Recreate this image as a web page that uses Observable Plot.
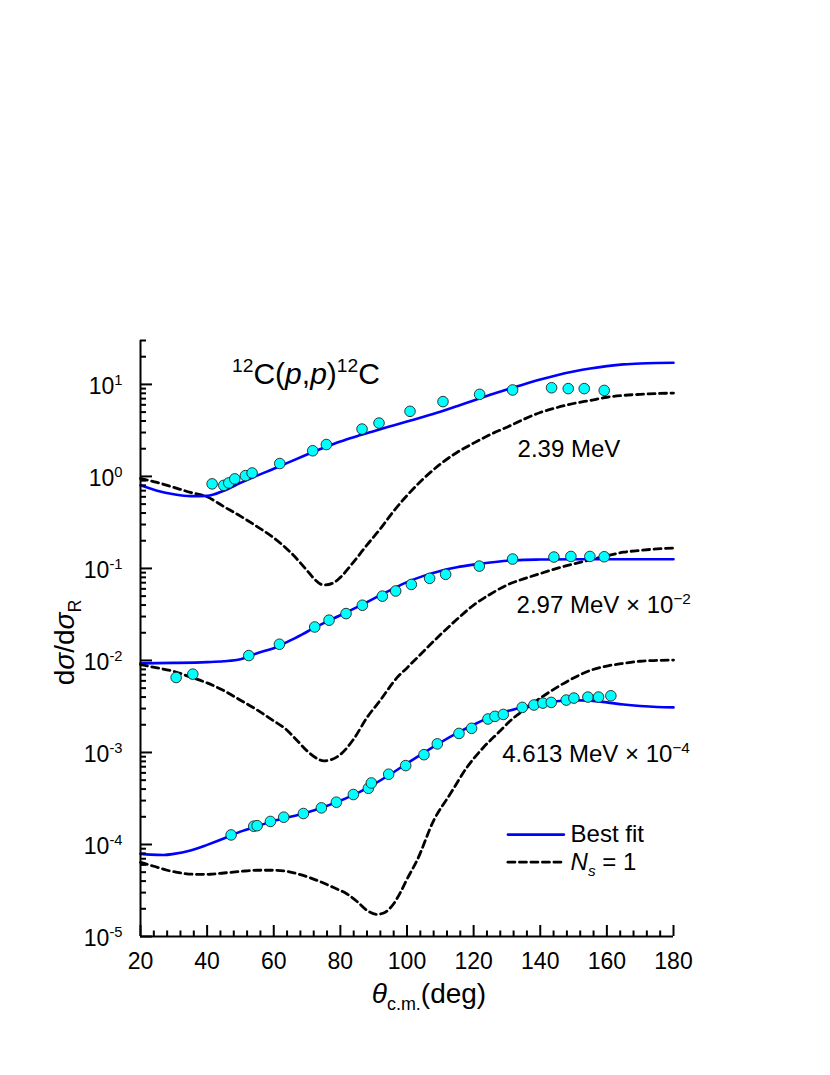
<!DOCTYPE html>
<html><head><meta charset="utf-8">
<script src="https://cdn.jsdelivr.net/npm/d3@7"></script>
<script src="https://cdn.jsdelivr.net/npm/@observablehq/plot@0.6"></script>
<style>body{margin:0;background:#fff;} svg{display:block;}</style>
</head><body><div id="chart"></div>
<script>
// ---- data: [theta (deg), dσ/dσR] ----
const fit239 = [[20,0.80],[25,0.70],[30,0.64],[35,0.61],[40,0.615],[45,0.70],[50,0.85],[55,1.02],[60,1.21],[65,1.45],[70,1.73],[75,2.05],[80,2.40],[85,2.74],[90,3.10],[95,3.50],[100,3.95],[105,4.45],[110,5.05],[115,5.8],[120,6.7],[125,7.7],[130,8.8],[135,10.0],[140,11.3],[145,12.6],[150,13.8],[155,14.9],[160,15.8],[165,16.5],[170,16.9],[175,17.1],[180,17.2]];
const ns239 = [[20,0.95],[25,0.86],[30,0.76],[35,0.67],[40,0.60],[45,0.47],[50,0.37],[55,0.285],[60,0.215],[65,0.15],[70,0.095],[72,0.078],[75,0.066],[78,0.070],[80,0.080],[84,0.118],[88,0.18],[92,0.27],[96,0.42],[100,0.62],[105,0.95],[110,1.36],[115,1.82],[120,2.3],[125,2.85],[130,3.43],[135,4.17],[140,4.95],[145,5.6],[150,6.2],[155,6.7],[160,7.25],[165,7.6],[170,7.8],[175,7.95],[180,8.05]];
const fit297 = [[20,0.0093],[30,0.0094],[40,0.0096],[45,0.0098],[50,0.0103],[55,0.0120],[60,0.0136],[65,0.0165],[70,0.0205],[75,0.0255],[80,0.031],[85,0.038],[90,0.047],[95,0.058],[100,0.071],[105,0.083],[110,0.094],[115,0.103],[120,0.110],[125,0.116],[130,0.121],[135,0.124],[140,0.125],[150,0.126],[160,0.126],[170,0.126],[180,0.126]];
const ns297 = [[20,0.0090],[25,0.0083],[30,0.0076],[35,0.0066],[40,0.0057],[45,0.0047],[50,0.0037],[55,0.0029],[60,0.0022],[63,0.00187],[67,0.00135],[70,0.00104],[73,0.00086],[75,0.00081],[77,0.00083],[80,0.00095],[84,0.0014],[88,0.0024],[92,0.0037],[97,0.0065],[100,0.0083],[105,0.0126],[110,0.019],[115,0.028],[120,0.040],[125,0.0525],[130,0.066],[135,0.077],[140,0.088],[145,0.100],[150,0.112],[155,0.124],[160,0.137],[165,0.150],[170,0.157],[175,0.163],[180,0.166]];
const fit4613 = [[20,7.9e-5],[23,7.75e-5],[27,7.7e-5],[30,7.9e-5],[35,8.6e-5],[40,9.9e-5],[45,1.16e-4],[50,1.38e-4],[55,1.58e-4],[60,1.8e-4],[65,2.0e-4],[70,2.22e-4],[75,2.55e-4],[80,3.0e-4],[85,3.6e-4],[90,4.5e-4],[95,5.8e-4],[100,7.6e-4],[105,9.9e-4],[110,1.28e-3],[115,1.62e-3],[120,2.0e-3],[125,2.42e-3],[130,2.8e-3],[135,3.12e-3],[140,3.4e-3],[145,3.6e-3],[150,3.7e-3],[155,3.66e-3],[160,3.5e-3],[165,3.32e-3],[170,3.2e-3],[175,3.12e-3],[180,3.09e-3]];
const ns4613 = [[20,6.4e-5],[24,5.8e-5],[28,5.25e-5],[33,4.85e-5],[37,4.73e-5],[41,4.75e-5],[45,4.9e-5],[50,5.1e-5],[55,5.25e-5],[60,5.25e-5],[64,5.1e-5],[68,4.7e-5],[73,4.07e-5],[78,3.4e-5],[82,2.9e-5],[85,2.4e-5],[88,1.92e-5],[91,1.74e-5],[93,1.8e-5],[96,2.27e-5],[98,3.0e-5],[100,4.2e-5],[103,6.7e-5],[108,1.82e-4],[113,3.55e-4],[118,6.9e-4],[123,1.14e-3],[128,1.72e-3],[131,2.21e-3],[135,2.88e-3],[140,3.9e-3],[145,5.1e-3],[150,6.45e-3],[155,7.8e-3],[160,8.7e-3],[165,9.3e-3],[170,9.8e-3],[175,1.0e-2],[180,1.01e-2]];

const exp239 = [[41.5,0.83],[45.0,0.80],[46.5,0.85],[48.3,0.94],[51.5,1.02],[53.5,1.09],[61.8,1.38],[71.7,1.9],[75.8,2.22],[86.5,3.27],[91.6,3.8],[100.9,5.1],[110.8,6.5],[121.8,7.8],[131.7,8.7],[143.4,9.2],[148.4,9.0],[153.2,9.0],[159.2,8.6]];
const exp297 = [[30.7,0.00653],[35.7,0.0071],[52.5,0.0113],[61.7,0.0150],[72.3,0.0231],[76.6,0.0274],[81.7,0.0323],[86.6,0.0398],[92.6,0.050],[96.6,0.0569],[101.3,0.067],[106.8,0.078],[111.6,0.0863],[121.7,0.106],[131.7,0.1265],[144.1,0.133],[149.2,0.135],[154.9,0.135],[159.2,0.134]];
const exp4613 = [[47.2,1.27e-4],[54.0,1.58e-4],[55.0,1.6e-4],[59.0,1.78e-4],[63.0,1.98e-4],[68.9,2.17e-4],[74.3,2.5e-4],[78.8,2.88e-4],[83.9,3.49e-4],[88.4,4.08e-4],[89.3,4.66e-4],[94.5,5.8e-4],[99.6,7.2e-4],[105.1,9.46e-4],[109.1,1.24e-3],[115.6,1.61e-3],[119.4,1.83e-3],[124.3,2.31e-3],[126.4,2.47e-3],[128.9,2.59e-3],[134.6,3.09e-3],[138.1,3.28e-3],[140.8,3.44e-3],[143.3,3.5e-3],[147.8,3.71e-3],[150.1,3.9e-3],[154.3,4.0e-3],[157.5,4.0e-3],[161.2,4.13e-3]];

// ---- ticks ----
const xMajor = [20,40,60,80,100,120,140,160,180];
const xMinor = d3.range(20,181,4).filter(v => v % 20 !== 0);
const yMajor = [1e-5,1e-4,1e-3,1e-2,1e-1,1,10];
const yMinor = [];
for (let e = -5; e <= 1; e++) for (let k = 2; k <= 9; k++) { const v = k * Math.pow(10, e); if (v <= 30.01) yMinor.push(v); }

// ---- annotations (text segments, anchor θ, value at baseline) ----
const titleSegs = [["12","sup"],["C(",""],["p","it"],[",",""],["p","it"],[")",""],["12","sup"],["C",""]];
const titleTheta = [47.5], titleValue = [10];
const annoSegs = [
  [["2.39 MeV",""]],
  [["2.97 MeV \u00d7 10",""],["\u22122","sup"]],
  [["4.613 MeV \u00d7 10",""],["\u22124","sup"]]
];
const annoTheta = [133.2, 132.9, 128.6];
const annoValue = [1.61, 0.0324, 7.85e-4];
const legendLabels = [[["Best fit",""]], [["N","it"],["s","subit"],[" = 1",""]]];
const legendLineTheta = [130.3, 147.1];
const legendRowValue = [1.28e-4, 6.43e-5];
const legendTextTheta = [149.1];
const xLabelSegs = [["\u03b8","it"],["c.m.","sub"],["(deg)",""]];
const yLabelSegs = [["d",""],["\u03c3","it"],["/d",""],["\u03c3","it"],["R","sub"]];

const font = "'Liberation Sans', Arial, Helvetica, sans-serif";
const plain = segs => segs.map(s => s[0]).join("");
const X = d => d[0], Y = d => d[1];
const blue = "#0000ff";

const lineOpts = {x: X, y: Y, curve: "monotone-x"};
const fitStyle = {...lineOpts, stroke: blue, strokeWidth: 2.6};
const nsStyle = {...lineOpts, stroke: "#000", strokeWidth: 2.8, strokeDasharray: "7,4.5"};
const dotStyle = {x: X, y: Y, r: 5.3, fill: "#00ffff", stroke: "#222", strokeWidth: 0.9};

const plot = Plot.plot({
  width: 830, height: 1075,
  marginLeft: 140, marginRight: 157, marginTop: 340, marginBottom: 139,
  style: {fontFamily: font, fontSize: "23px", color: "#000", background: "#fff", overflow: "visible"},
  x: {domain: [20, 180]},
  y: {type: "log", domain: [1e-5, 30]},
  marks: [
    Plot.line(ns239, nsStyle),
    Plot.line(ns297, nsStyle),
    Plot.line(ns4613, nsStyle),
    Plot.line(fit239, fitStyle),
    Plot.line(fit297, fitStyle),
    Plot.line(fit4613, fitStyle),
    Plot.dot(exp239, dotStyle),
    Plot.dot(exp297, dotStyle),
    Plot.dot(exp4613, dotStyle),
    Plot.ruleX([20], {strokeWidth: 2}),
    Plot.ruleY([1e-5], {strokeWidth: 2}),
    Plot.axisX({ticks: xMajor, tickSize: -11, tickPadding: 27, strokeWidth: 2, fontSize: 23, label: null, tickFormat: d => String(d)}),
    Plot.axisX({ticks: xMinor, tickSize: -5.5, strokeWidth: 2, label: null, tickFormat: () => ""}),
    Plot.axisY({ticks: yMajor, tickSize: -12, tickPadding: 30, strokeWidth: 2, fontSize: 23, label: null, tickFormat: d => "10^" + Math.round(Math.log10(d))}),
    Plot.axisY({ticks: yMinor, tickSize: -6, strokeWidth: 2, label: null, tickFormat: () => ""}),
    // legend swatches
    Plot.line(legendLineTheta.map(t => [t, legendRowValue[0]]), {x: X, y: Y, stroke: blue, strokeWidth: 2.6}),
    Plot.line(legendLineTheta.map(t => [t, legendRowValue[1]]), {x: X, y: Y, stroke: "#000", strokeWidth: 2.8, strokeDasharray: "7,4.5"}),
    Plot.text(legendLabels, {x: () => legendTextTheta[0], y: (d, i) => legendRowValue[i], text: plain, textAnchor: "start", lineAnchor: "middle", fontSize: 24}),
    // title and energy labels
    Plot.text([titleSegs], {x: () => titleTheta[0], y: () => titleValue[0], text: plain, textAnchor: "start", lineAnchor: "bottom", fontSize: 30}),
    Plot.text(annoSegs, {x: (d, i) => annoTheta[i], y: (d, i) => annoValue[i], text: plain, textAnchor: "start", lineAnchor: "bottom", fontSize: 24}),
    // axis titles
    Plot.text([xLabelSegs], {frameAnchor: "bottom", text: plain, dx: 22, dy: 66, lineAnchor: "bottom", textAnchor: "middle", fontSize: 28}),
    Plot.text([yLabelSegs], {frameAnchor: "left", text: plain, rotate: -90, dx: -75, dy: 4, lineAnchor: "middle", textAnchor: "middle", fontSize: 28})
  ]
});

// rich text: superscripts, subscripts, italics
function rich(el, segs, size, dy0 = 0) {
  const t = d3.select(el);
  t.selectAll("*").remove();
  t.text(null);
  let shift = 0, first = true;
  for (const [str, kind] of segs) {
    const ts = t.append("tspan").text(str);
    let target = 0, fs = null;
    if (kind === "sup") { target = -size * 0.40; fs = size * 0.64; }
    else if (kind === "sub" || kind === "subit") { target = size * 0.25; fs = size * 0.64; }
    if (fs) ts.attr("font-size", fs);
    if (kind === "it" || kind === "subit") ts.attr("font-style", "italic");
    const d = target - shift + (first ? dy0 : 0);
    if (d !== 0) ts.attr("dy", d);
    shift = target; first = false;
  }
}
const richList = [
  [titleSegs, 30], ...annoSegs.map(s => [s, 24]), ...legendLabels.map(s => [s, 24]),
  [xLabelSegs, 28], [yLabelSegs, 28]
];
const texts = Array.from(plot.querySelectorAll("text"));
for (const el of texts) {
  const s = el.textContent;
  const hit = richList.find(([segs]) => plain(segs) === s);
  if (hit) { rich(el, hit[0], hit[1]); continue; }
  const m = /^10\^(-?\d+)$/.exec(s);
  if (m) rich(el, [["10", ""], [m[1], "sup"]], 23, 2);
}
document.getElementById("chart").appendChild(plot);
</script></body></html>
